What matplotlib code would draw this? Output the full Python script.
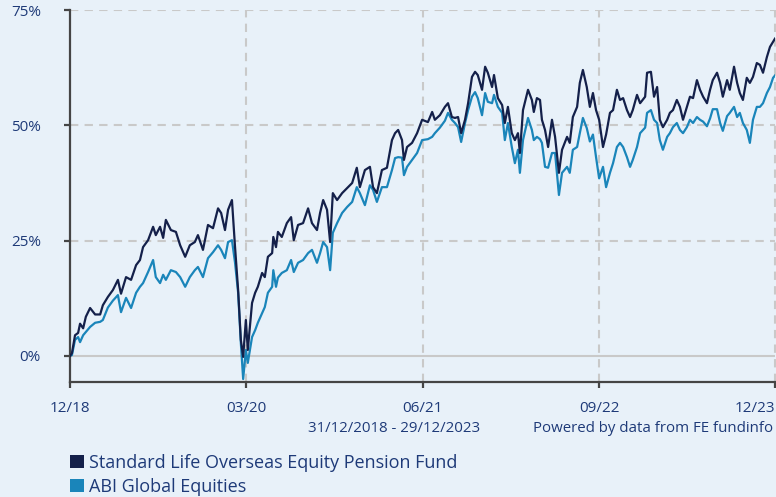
import matplotlib
matplotlib.use("Agg")
import matplotlib.pyplot as plt
from matplotlib.patches import Patch
import pandas as pd

dates = [
    "2018-12-31","2019-01-05","2019-01-13","2019-01-21","2019-01-26","2019-02-03","2019-02-10","2019-02-21",
    "2019-03-06","2019-03-19","2019-03-26","2019-04-08","2019-04-21","2019-05-04","2019-05-12","2019-05-25",
    "2019-06-07","2019-06-20","2019-06-30","2019-07-08","2019-07-21","2019-08-03","2019-08-10","2019-08-21",
    "2019-08-29","2019-09-05","2019-09-18","2019-10-01","2019-10-12","2019-10-25","2019-11-06","2019-11-19",
    "2019-11-27","2019-12-10","2019-12-23","2020-01-05","2020-01-18","2020-01-26","2020-02-05","2020-02-13",
    "2020-02-23","2020-03-02","2020-03-10","2020-03-17","2020-03-23","2020-03-30","2020-04-04","2020-04-15",
    "2020-04-23","2020-04-30","2020-05-11","2020-05-18","2020-05-26","2020-06-06","2020-06-09","2020-06-16",
    "2020-06-21","2020-07-01","2020-07-14","2020-07-25","2020-08-01","2020-08-12","2020-08-25","2020-09-07",
    "2020-09-17","2020-09-30","2020-10-08","2020-10-16","2020-10-26","2020-11-03","2020-11-10","2020-11-21",
    "2020-12-04","2020-12-17","2020-12-30","2021-01-11","2021-01-19","2021-02-01","2021-02-14","2021-02-22",
    "2021-03-04","2021-03-17","2021-03-30","2021-04-12","2021-04-20","2021-04-28","2021-05-08","2021-05-13",
    "2021-05-21","2021-06-03","2021-06-16","2021-06-29","2021-07-14","2021-07-25","2021-08-01","2021-08-14",
    "2021-08-27","2021-09-04","2021-09-14","2021-09-22","2021-09-30","2021-10-08","2021-10-18","2021-10-26",
    "2021-11-05","2021-11-13","2021-11-20","2021-12-01","2021-12-09","2021-12-16","2021-12-27","2022-01-01",
    "2022-01-11","2022-01-22","2022-01-29","2022-02-06","2022-02-16","2022-02-24","2022-03-04","2022-03-09",
    "2022-03-17","2022-03-30","2022-04-09","2022-04-14","2022-04-22","2022-04-30","2022-05-05","2022-05-13",
    "2022-05-21","2022-05-31","2022-06-08","2022-06-18","2022-06-26","2022-07-09","2022-07-16","2022-07-24",
    "2022-08-04","2022-08-11","2022-08-19","2022-08-29","2022-09-06","2022-09-14","2022-09-22","2022-09-30",
    "2022-10-10","2022-10-18","2022-10-28","2022-11-05","2022-11-15","2022-11-23","2022-12-01","2022-12-11",
    "2022-12-19","2022-12-26","2023-01-06","2023-01-14","2023-01-27","2023-02-01","2023-02-11","2023-02-19",
    "2023-02-27","2023-03-06","2023-03-14","2023-03-25","2023-04-01","2023-04-09","2023-04-19","2023-04-27",
    "2023-05-05","2023-05-15","2023-05-23","2023-05-31","2023-06-10","2023-06-18","2023-06-26","2023-07-06",
    "2023-07-14","2023-07-21","2023-08-01","2023-08-09","2023-08-16","2023-08-27","2023-09-03","2023-09-14",
    "2023-09-22","2023-09-29","2023-10-07","2023-10-17","2023-10-25","2023-11-02","2023-11-12","2023-11-20",
    "2023-11-28","2023-12-08","2023-12-16","2023-12-24","2023-12-29",
]

fund = [
    0.0, 0.6, 4.5, 5.0, 7.0, 6.0, 8.5, 10.4,
    9.0, 9.0, 11.0, 12.8, 14.3, 16.5, 13.5, 17.1,
    16.5, 19.7, 20.8, 23.6, 25.1, 28.0, 26.2, 28.0,
    25.6, 29.5, 27.3, 26.9, 24.0, 21.5, 24.0, 24.7,
    26.2, 23.0, 28.4, 27.7, 32.0, 31.0, 27.3, 31.7,
    33.8, 23.6, 14.3, 3.5, -0.2, 7.8, 1.3, 11.5,
    13.7, 15.0, 18.0, 17.1, 21.5, 22.3, 25.8, 23.6,
    26.9, 25.8, 28.8, 30.1, 25.1, 28.4, 28.8, 32.0,
    28.8, 27.3, 31.0, 33.8, 31.7, 24.7, 35.3, 33.8,
    35.3, 36.4, 37.5, 40.8, 36.6, 40.3, 41.0, 36.6,
    35.3, 40.3, 40.8, 46.8, 48.3, 49.0, 46.8, 42.5,
    45.3, 46.2, 48.3, 51.2, 50.7, 52.9, 51.2, 52.2,
    54.0, 54.8, 51.8, 51.6, 51.8, 48.3, 51.2, 54.8,
    60.5, 61.6, 60.9, 57.7, 62.7, 61.4, 58.3, 60.9,
    55.9, 54.4, 50.5, 54.0, 48.3, 46.8, 48.3, 44.0,
    53.3, 57.7, 55.5, 52.9, 55.9, 55.5, 51.2, 49.0,
    45.3, 51.2, 47.5, 39.7, 44.7, 47.5, 46.2, 51.8,
    54.0, 59.2, 62.0, 58.3, 54.0, 57.0, 53.3, 51.2,
    45.3, 48.0, 52.7, 53.3, 57.7, 55.5, 55.9, 53.3,
    51.8, 53.3, 56.6, 54.8, 56.2, 61.4, 61.6, 56.2,
    58.3, 51.2, 49.6, 51.2, 52.7, 53.3, 55.5, 54.0,
    51.2, 54.0, 56.2, 55.9, 59.8, 57.7, 56.2, 54.8,
    57.7, 59.8, 61.4, 59.2, 56.2, 59.8, 57.7, 62.7,
    59.2, 57.0, 55.5, 60.3, 59.2, 60.5, 63.5, 63.1,
    61.4, 64.8, 67.0, 68.1, 68.8,
]

benchmark = [
    0.0, 0.2, 3.5, 4.1, 3.0, 4.5, 5.2, 6.3,
    7.2, 7.4, 7.8, 10.5, 12.0, 13.2, 9.5, 12.6,
    10.4, 13.7, 15.0, 15.8, 18.2, 20.8, 17.1, 15.8,
    17.6, 16.5, 18.6, 18.2, 17.1, 15.0, 17.1, 18.6,
    19.3, 17.1, 21.2, 22.5, 24.0, 23.0, 21.2, 24.7,
    25.1, 20.2, 13.7, 2.8, -5.0, 1.3, -1.5, 4.1,
    5.6, 7.2, 9.3, 10.6, 13.7, 15.0, 18.6, 15.0,
    17.0, 18.0, 18.6, 20.8, 18.2, 20.2, 20.8, 22.3,
    23.0, 20.2, 22.3, 24.7, 23.6, 18.6, 26.7, 28.8,
    31.0, 32.3, 33.4, 36.6, 35.3, 32.7, 37.0, 36.0,
    33.4, 36.6, 36.6, 40.3, 42.9, 43.1, 43.0, 39.2,
    41.0, 42.5, 44.0, 46.8, 47.0, 47.5, 48.3, 49.5,
    51.0, 52.7, 51.2, 50.5, 49.6, 46.4, 50.5, 53.3,
    56.2, 57.2, 55.9, 52.2, 57.0, 55.1, 54.8, 56.6,
    54.0, 52.7, 46.8, 50.5, 45.3, 41.8, 44.7, 39.7,
    46.8, 51.6, 49.0, 46.8, 47.5, 47.0, 46.2, 41.0,
    40.8, 44.0, 44.0, 34.9, 39.7, 41.0, 39.7, 44.7,
    45.3, 48.3, 51.6, 49.4, 46.5, 48.0, 43.1, 38.5,
    41.0, 36.6, 39.7, 41.8, 45.3, 46.2, 45.3, 43.1,
    41.0, 42.5, 45.3, 48.3, 49.5, 52.7, 53.3, 51.2,
    50.5, 46.8, 44.7, 47.5, 48.3, 49.6, 50.5, 49.0,
    48.3, 49.6, 51.2, 50.5, 51.8, 51.2, 50.8, 49.8,
    51.5, 53.5, 53.5, 50.5, 48.8, 52.0, 52.7, 54.0,
    51.8, 52.7, 50.5, 49.0, 46.2, 51.2, 54.0, 54.0,
    54.8, 57.0, 58.3, 60.3, 60.8,
]

series_names = ["Standard Life Overseas Equity Pension Fund", "ABI Global Equities"]
tick_dates = ["2018-12-31", "2020-03-31", "2021-06-30", "2022-09-30", "2023-12-29"]
tick_labels = ["12/18", "03/20", "06/21", "09/22", "12/23"]
y_ticks = [0, 25, 50, 75]
y_labels = ["0%", "25%", "50%", "75%"]
period_text = "31/12/2018 - 29/12/2023"
source_text = "Powered by data from FE fundinfo"

BG = "#e8f1f9"
NAVY = "#14204a"
BLUE = "#1a85ba"
TEXT = "#1e3a78"
GRID = "#c9c9c9"
AXIS = "#454545"

plt.rcParams["font.family"] = ["Open Sans", "DejaVu Sans"]

fig = plt.figure(figsize=(7.76, 4.97), dpi=100, facecolor=BG)
ax = fig.add_axes([70/776, (497-382)/497, 705/776, 372/497], facecolor=BG)

x = pd.to_datetime(dates)
xt = pd.to_datetime(tick_dates)

# grid
for yv in y_ticks[1:]:
    ax.axhline(yv, color=GRID, lw=1.5, ls=(0, (4, 3)), zorder=1)
ax.axhline(0, color=GRID, lw=1.5, zorder=1)
for xv in xt[1:]:
    ax.axvline(xv, color=GRID, lw=1.5, ls=(0, (4, 3)), zorder=1, clip_on=False)

ax.plot(x, fund, color=NAVY, lw=1.6, zorder=3, label=series_names[0])
ax.plot(x, benchmark, color=BLUE, lw=1.6, zorder=2, label=series_names[1])

ax.set_xlim(xt[0], xt[-1])
ax.set_ylim(-5.64, 75)
ax.set_xticks(xt)
ax.set_xticklabels(tick_labels)
ax.set_yticks(y_ticks)
ax.set_yticklabels(y_labels)

for s in ["top", "right"]:
    ax.spines[s].set_visible(False)
for s in ["left", "bottom"]:
    ax.spines[s].set_color(AXIS)
    ax.spines[s].set_linewidth(1.6)

ax.tick_params(axis="y", length=4, width=1.6, color=AXIS, pad=17, labelcolor=TEXT, labelsize=11)
ax.tick_params(axis="x", length=4, width=1.6, color=AXIS, pad=10, labelcolor=TEXT, labelsize=11)
ax.get_xticklabels()[-1].set_horizontalalignment("right")

fig.text(394/776, 1 - 428/497, period_text, ha="center", va="center", color=TEXT, fontsize=10.8)
fig.text(773/776, 1 - 428/497, source_text, ha="right", va="center", color=TEXT, fontsize=10.8)

handles = [Patch(facecolor=NAVY, edgecolor="none"), Patch(facecolor=BLUE, edgecolor="none")]
leg = fig.legend(handles, series_names, loc="upper left", bbox_to_anchor=(70/776, 1 - 454/497),
                 frameon=False, fontsize=13, handlelength=0.75, handleheight=0.75,
                 handletextpad=0.3, labelspacing=0.33, borderaxespad=0, borderpad=0)
for t in leg.get_texts():
    t.set_color(TEXT)

fig.savefig("out.png", dpi=100, facecolor=BG)
